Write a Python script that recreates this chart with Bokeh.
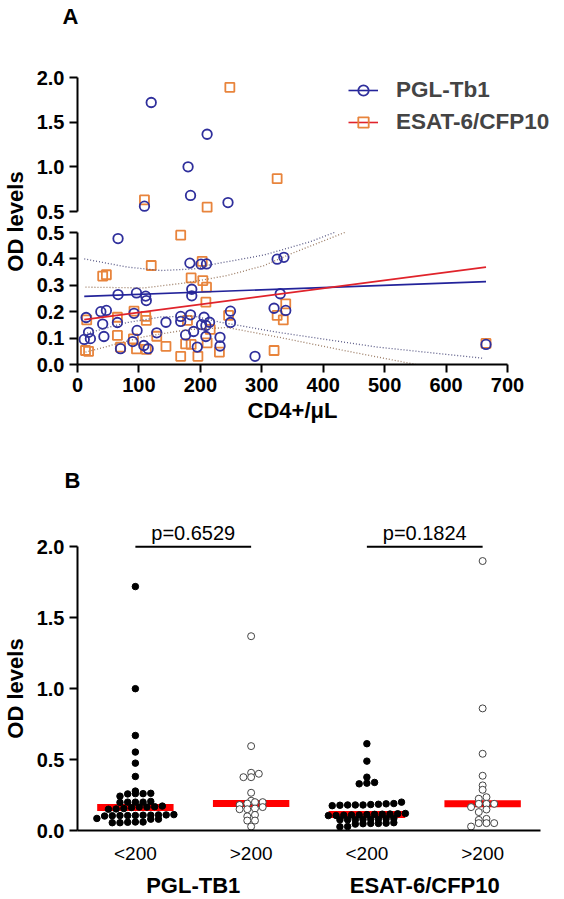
import math
import numpy as np
from bokeh.plotting import figure
from bokeh.models import (Range1d, FixedTicker, Legend, LegendItem,
                          FactorRange, PrintfTickFormatter)
from bokeh.layouts import column, row
from bokeh.embed import file_html
from bokeh.resources import INLINE
from bokeh.core.properties import value

FONT = "Liberation Sans"

# ---------------- Panel A data (CD4+/uL vs OD) ----------------
pgl_cd4 = [120, 211, 180, 184, 245, 109,
           66, 183, 201, 210, 66, 96, 111, 112, 186, 186, 14, 38, 47, 41, 65, 92,
           18, 11, 21, 43, 70, 90, 97, 108, 115, 129, 144, 168, 168, 184, 176, 189,
           195, 206, 202, 209, 215, 209, 232, 232, 249, 249, 289, 325, 336, 330,
           320, 339, 665]
pgl_od = [1.72, 1.365, 1.00, 0.68, 0.60, 0.56,
          0.477, 0.384, 0.380, 0.381, 0.265, 0.271, 0.259, 0.242, 0.285, 0.260, 0.178,
          0.200, 0.205, 0.153, 0.159, 0.194, 0.122, 0.095, 0.098, 0.106, 0.060, 0.087,
          0.129, 0.072, 0.060, 0.120, 0.160, 0.182, 0.163, 0.188, 0.112, 0.125, 0.066,
          0.179, 0.151, 0.148, 0.160, 0.106, 0.103, 0.070, 0.202, 0.159, 0.031, 0.399,
          0.406, 0.268, 0.213, 0.205, 0.076]

esat_cd4 = [248, 325, 109, 211,
            168, 120, 41, 47, 203, 185, 204, 210, 209, 15, 65, 92, 111, 112, 179, 65,
            91, 13, 18, 70, 96, 112, 129, 144, 168, 176, 185, 196, 211, 216, 231, 246,
            339, 325, 335, 320, 665]
esat_od = [1.89, 0.867, 0.63, 0.548,
           0.490, 0.375, 0.335, 0.340, 0.391, 0.328, 0.318, 0.293, 0.236, 0.169, 0.179,
           0.202, 0.182, 0.167, 0.167, 0.110, 0.097, 0.053, 0.050, 0.066, 0.059, 0.057,
           0.107, 0.069, 0.031, 0.078, 0.076, 0.031, 0.082, 0.133, 0.047, 0.186, 0.230,
           0.186, 0.169, 0.053, 0.080]

# regression lines (end points)
fit_x = [11, 665]
pgl_fit = [0.258, 0.314]
esat_fit = [0.170, 0.369]

# 95% confidence bands (dotted)
pgl_band_up_x = [11, 81, 136, 190, 217, 255, 304, 380, 418]
pgl_band_up_y = [0.400, 0.369, 0.356, 0.362, 0.378, 0.394, 0.415, 0.466, 0.500]
pgl_band_lo_x = [11, 81, 136, 190, 233, 326, 488, 659]
pgl_band_lo_y = [0.116, 0.159, 0.180, 0.183, 0.160, 0.122, 0.066, 0.024]
esat_band_up_x = [13, 108, 179, 244, 304, 347, 435]
esat_band_up_y = [0.293, 0.290, 0.310, 0.337, 0.375, 0.419, 0.500]
esat_band_lo_x = [13, 108, 179, 244, 326, 434, 551]
esat_band_lo_y = [0.047, 0.105, 0.132, 0.140, 0.104, 0.053, 0.000]

x_ticks_A = [0, 100, 200, 300, 400, 500, 600, 700]
y_ticks_low = [0.0, 0.1, 0.2, 0.3, 0.4, 0.5]
y_ticks_up = [0.5, 1.0, 1.5, 2.0]

# ---------------- Panel B data ----------------
groups = ["PGL-TB1", "ESAT-6/CFP10"]
subgroups = ["<200", ">200"]
pgl_lo = [1.72, 1.00, 0.67, 0.553, 0.475, 0.381, 0.278, 0.262, 0.26, 0.26, 0.258, 0.242,
          0.205, 0.2, 0.2, 0.2, 0.198, 0.172, 0.168, 0.165, 0.165, 0.162, 0.155, 0.152,
          0.15, 0.112, 0.11, 0.11, 0.108, 0.108, 0.106, 0.105, 0.105, 0.104, 0.102,
          0.085, 0.08, 0.08, 0.06, 0.058, 0.055, 0.055, 0.06]
pgl_hi = [1.37, 0.595, 0.407, 0.40, 0.376, 0.376, 0.266, 0.21, 0.20, 0.20, 0.19, 0.18,
          0.165, 0.155, 0.15, 0.15, 0.11, 0.10, 0.07, 0.07, 0.028]
esat_lo = [0.612, 0.489, 0.376, 0.339, 0.334, 0.329, 0.20, 0.19, 0.188, 0.185, 0.183,
           0.18, 0.18, 0.18, 0.178, 0.175, 0.12, 0.118, 0.116, 0.115, 0.114, 0.112, 0.11,
           0.11, 0.108, 0.106, 0.105, 0.085, 0.083, 0.08, 0.08, 0.078, 0.076, 0.075,
           0.075, 0.055, 0.052, 0.05, 0.05, 0.048, 0.045, 0.028, 0.026]
esat_hi = [1.90, 0.861, 0.541, 0.386, 0.318, 0.287, 0.235, 0.224, 0.188, 0.188, 0.188,
           0.165, 0.148, 0.13, 0.082, 0.075, 0.052, 0.052, 0.052, 0.028]
p_values = ["p=0.6529", "p=0.1824"]
y_ticks_B = [0.0, 0.5, 1.0, 1.5, 2.0]

BLUE = "#2F2F9C"
ORANGE = "#E8843C"
BLUE_LINE = "#23239A"
RED_LINE = "#E0232B"
BLUE_BAND = "#5A5A86"
RED_BAND = "#9A7A62"

LAB_W = 30          # strip holding the rotated y titles
AX_BORDER = 47      # left border of the plots -> y axis at page x 77
FULL_W = 556


def style_axis(ax, size="20px"):
    ax.axis_line_width = 2
    ax.axis_line_color = "black"
    ax.major_tick_line_width = 2
    ax.major_tick_line_color = "black"
    ax.major_tick_in = 0
    ax.major_tick_out = 8
    ax.minor_tick_line_color = None
    ax.major_label_text_font = FONT
    ax.major_label_text_font_style = "bold"
    ax.major_label_text_font_size = size
    ax.major_label_text_color = "black"
    ax.major_label_standoff = 5
    ax.axis_label_text_font = FONT
    ax.axis_label_text_font_style = "bold"
    ax.axis_label_text_font_size = "22px"
    ax.axis_label_text_color = "black"


def clean(p):
    p.outline_line_color = None
    p.xgrid.visible = False
    p.ygrid.visible = False


def strip(width, height):
    s = figure(frame_width=width, frame_height=height, x_range=Range1d(0, width),
               y_range=Range1d(height, 0), x_axis_location=None, y_axis_location=None,
               output_backend="svg", toolbar_location=None,
               min_border_left=0, min_border_right=0, min_border_top=0, min_border_bottom=0)
    s.outline_line_color = None
    s.grid.visible = False
    return s


def rotated_title(height, text, center_y):
    s = strip(LAB_W, height)
    s.text(x=[15], y=[center_y], text=[text], angle=math.pi / 2, text_font=value(FONT),
           text_font_style="bold", text_font_size="22px", text_align="center",
           text_baseline="middle", text_color="black")
    return s


def panel_letter(height, letter, cx, cy):
    s = strip(FULL_W, height)
    s.text(x=[cx], y=[cy], text=[letter], text_font=value(FONT), text_font_style="bold",
           text_font_size="22px", text_align="center", text_baseline="middle",
           text_color="black")
    return s


# ================= Panel A (broken y axis: two stacked plots) =================
XS = 430.0 / 700.0        # px per CD4 unit
LYS = 264.0               # px per OD unit, lower segment
UYS = 134.0 / 1.5         # px per OD unit, upper segment

A_TOP = 60
topA = panel_letter(A_TOP, "A", 70, 16)

# upper segment 0.5..2.0 (page y 211..77), frame page 60..222
U_FH = 162
up_lo = 0.5 - 11 / UYS
up_hi = 2.0 + 17 / UYS
pU = figure(frame_width=479, frame_height=U_FH, x_range=Range1d(0, 479 / XS),
            y_range=Range1d(up_lo, up_hi), x_axis_location=None,
            output_backend="svg", toolbar_location=None,
            min_border_left=AX_BORDER, min_border_right=0, min_border_top=0,
            min_border_bottom=0)
clean(pU)
yu = pU.yaxis[0]
style_axis(yu)
yu.ticker = FixedTicker(ticks=y_ticks_up)
yu.formatter = PrintfTickFormatter(format="%.1f")
yu.bounds = (0.5, 2.0)

# lower segment 0..0.5 (page y 364..232), frame page 226..364
L_TOP, L_FH, L_BOT = 4, 138, 70
lo_hi = 0.5 + 6 / LYS
pL = figure(frame_width=430, frame_height=L_FH, x_range=Range1d(0, 700),
            y_range=Range1d(0, lo_hi), output_backend="svg", toolbar_location=None,
            min_border_left=AX_BORDER, min_border_right=49, min_border_top=L_TOP,
            min_border_bottom=L_BOT)
clean(pL)
xa = pL.xaxis[0]
style_axis(xa)
xa.ticker = FixedTicker(ticks=x_ticks_A)
xa.axis_label = "CD4+/\u03bcL"
xa.axis_label_standoff = 3
ya = pL.yaxis[0]
style_axis(ya)
ya.ticker = FixedTicker(ticks=y_ticks_low)
ya.formatter = PrintfTickFormatter(format="%.1f")
ya.bounds = (0, 0.5)

pc = np.array(pgl_cd4, float); po = np.array(pgl_od, float)
ec = np.array(esat_cd4, float); eo = np.array(esat_od, float)
pu = po > 0.5
eu = eo > 0.5

pL.scatter(ec[~eu], eo[~eu], marker="square", size=9, fill_color=None,
           line_color=ORANGE, line_width=1.8)
pU.scatter(ec[eu], eo[eu], marker="square", size=9, fill_color=None,
           line_color=ORANGE, line_width=1.8)
pL.scatter(pc[~pu], po[~pu], marker="circle", size=9.5, fill_color=None,
           line_color=BLUE, line_width=1.8)
pU.scatter(pc[pu], po[pu], marker="circle", size=9.5, fill_color=None,
           line_color=BLUE, line_width=1.8)

for bx, by, col in [(pgl_band_up_x, pgl_band_up_y, BLUE_BAND),
                    (pgl_band_lo_x, pgl_band_lo_y, BLUE_BAND),
                    (esat_band_up_x, esat_band_up_y, RED_BAND),
                    (esat_band_lo_x, esat_band_lo_y, RED_BAND)]:
    pL.line(bx, by, line_color=col, line_width=1.3, line_dash="1 2")

pL.line(fit_x, pgl_fit, line_color=BLUE_LINE, line_width=1.6)
pL.line(fit_x, esat_fit, line_color=RED_LINE, line_width=1.6)

# legend entries (line + marker) shown in the upper plot
lg_b_line = pU.line([np.nan], [np.nan], line_color=BLUE_LINE, line_width=1.6)
lg_b_mk = pU.scatter([np.nan], [np.nan], marker="circle", size=9.5, fill_color=None,
                     line_color=BLUE, line_width=1.8)
lg_r_line = pU.line([np.nan], [np.nan], line_color=RED_LINE, line_width=1.6)
lg_r_mk = pU.scatter([np.nan], [np.nan], marker="square", size=9, fill_color=None,
                     line_color=ORANGE, line_width=1.8)
leg = Legend(items=[LegendItem(label="PGL-Tb1", renderers=[lg_b_line, lg_b_mk]),
                    LegendItem(label="ESAT-6/CFP10", renderers=[lg_r_line, lg_r_mk])],
             location=(271, 81 + (U_FH - 156)), border_line_color=None,
             background_fill_alpha=0, padding=0, margin=0, spacing=6, glyph_width=30,
             glyph_height=26, label_height=26, label_standoff=18, label_text_font=FONT,
             label_text_font_style="bold", label_text_font_size="22.5px")
pU.add_layout(leg)

A_BODY = U_FH + L_TOP + L_FH + L_BOT
A_H = A_TOP + A_BODY
labA = rotated_title(A_BODY, "OD levels", 221 - A_TOP)
colA = column(row(topA, spacing=0), row(labA, column(pU, pL, spacing=0), spacing=0),
              spacing=0)

# ================= Panel B =================
factors = [(g, s) for g in groups for s in subgroups]
BXS = 463.0 / 4
B_TOP = 84
B_BOTTOM = 64
topB = panel_letter(B_TOP, "B", 72, 480 - A_H)

pB = figure(frame_width=463, frame_height=312,
            x_range=FactorRange(*factors, factor_padding=0, group_padding=0, range_padding=0),
            y_range=Range1d(0, 2.2), output_backend="svg", toolbar_location=None,
            min_border_left=AX_BORDER, min_border_right=16, min_border_top=0,
            min_border_bottom=B_BOTTOM)
clean(pB)

yb = pB.yaxis[0]
style_axis(yb)
yb.ticker = FixedTicker(ticks=y_ticks_B)
yb.formatter = PrintfTickFormatter(format="%.1f")
yb.bounds = (0, 2.0)

xb = pB.xaxis[0]
xb.axis_line_width = 2
xb.axis_line_color = "black"
xb.major_tick_line_color = None
xb.minor_tick_line_color = None
xb.major_label_text_font = FONT
xb.major_label_text_font_size = "19px"
xb.major_label_text_color = "black"
xb.major_label_standoff = 6
xb.group_text_font = FONT
xb.group_text_font_size = "22px"
xb.group_text_font_style = "bold"
xb.group_text_color = "black"
xb.separator_line_alpha = 0


def swarm_rows(vals, bin_w=0.03, step_px=7.7):
    """GraphPad-like scatter: values within bin_w share a row, spread side by side."""
    idx = sorted(range(len(vals)), key=lambda i: vals[i])
    rows, cur, start = [], [], None
    for i in idx:
        if start is None or vals[i] - start >= bin_w:
            if cur:
                rows.append(cur)
            cur, start = [i], vals[i]
        else:
            cur.append(i)
    if cur:
        rows.append(cur)
    offs = [0.0] * len(vals)
    for r in rows:
        n = len(r)
        for k, i in enumerate(r):
            offs[i] = (k - (n - 1) / 2.0) * step_px / BXS
    return offs


series_B = [("PGL-TB1", "<200", pgl_lo, True), ("PGL-TB1", ">200", pgl_hi, False),
            ("ESAT-6/CFP10", "<200", esat_lo, True), ("ESAT-6/CFP10", ">200", esat_hi, False)]

meds = [float(np.median(v)) for _, _, v, _ in series_B]
pB.rect(x=[(g, s) for g, s, _, _ in series_B], y=meds, width=0.66, height=7,
        height_units="screen", fill_color="#FF0000", line_color=None)

for g, s, vals, filled in series_B:
    offs = swarm_rows(vals)
    xs = [(g, s, o) for o in offs]
    if filled:
        pB.scatter(xs, vals, marker="circle", size=6.5, fill_color="black", line_color="black")
    else:
        pB.scatter(xs, vals, marker="circle", size=7, fill_color="white",
                   line_color="#444444", line_width=1)

pB.segment(x0=[(g, "<200") for g in groups], x1=[(g, ">200") for g in groups],
           y0=[2.0, 2.0], y1=[2.0, 2.0], line_color="black", line_width=2)
pB.text(x=groups, y=[2.0, 2.0], text=p_values, text_font=value(FONT),
        text_font_size="20px", text_align="center", text_baseline="bottom",
        y_offset=-3, text_color="black")

B_BODY = 312 + B_BOTTOM
labB = rotated_title(B_BODY, "OD levels", 688 - A_H - B_TOP)
colB = column(row(topB, spacing=0), row(labB, pB, spacing=0), spacing=0)

layout = column(colA, colB, spacing=0)
open("out.html", "w").write(file_html(layout, INLINE))
